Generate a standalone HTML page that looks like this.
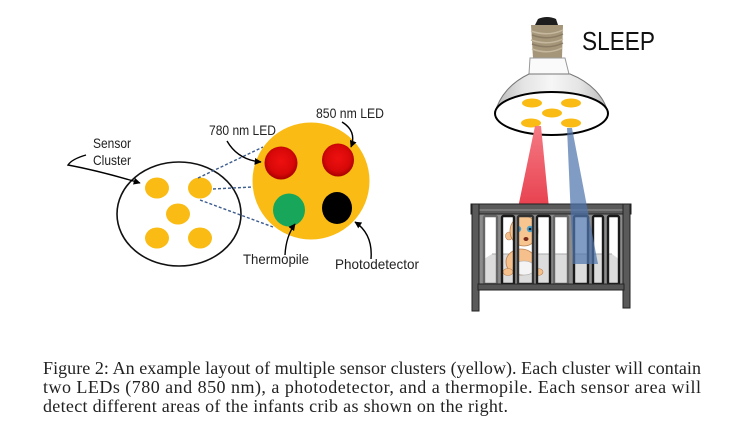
<!DOCTYPE html>
<html><head><meta charset="utf-8"><style>
html,body{margin:0;padding:0;background:#fff;}
svg{display:block;}
</style></head><body>
<svg width="740" height="427" viewBox="0 0 740 427" xmlns="http://www.w3.org/2000/svg">
<defs>
<marker id="ah" viewBox="0 0 10 10" refX="9" refY="5" markerWidth="7" markerHeight="7" orient="auto-start-reverse" markerUnits="userSpaceOnUse">
<path d="M0,0 L10,5 L0,10 Z" fill="#000"/>
</marker>
<radialGradient id="red" cx="50%" cy="45%" r="55%">
<stop offset="0" stop-color="#ee1010"/><stop offset="0.7" stop-color="#d80808"/><stop offset="1" stop-color="#a80000"/>
</radialGradient>
<linearGradient id="shade" x1="0" y1="0" x2="1" y2="0">
<stop offset="0" stop-color="#b8b8b8"/><stop offset="0.25" stop-color="#e4e4e4"/><stop offset="0.5" stop-color="#f6f6f6"/><stop offset="0.75" stop-color="#e4e4e4"/><stop offset="1" stop-color="#b8b8b8"/>
</linearGradient>
<linearGradient id="redbeam" x1="0" y1="0" x2="0" y2="1">
<stop offset="0" stop-color="#f47a84"/><stop offset="1" stop-color="#e8404e"/>
</linearGradient>
</defs>

<!-- LEFT DIAGRAM -->
<ellipse cx="179" cy="214" rx="62" ry="52" fill="#fff" stroke="#111" stroke-width="1.6"/>
<g fill="#f9bb14">
<ellipse cx="157" cy="188" rx="12" ry="10.5"/>
<ellipse cx="200" cy="188" rx="12" ry="10.5"/>
<ellipse cx="178" cy="214" rx="12" ry="10.5"/>
<ellipse cx="157" cy="238" rx="12" ry="10.5"/>
<ellipse cx="200" cy="238" rx="12" ry="10.5"/>
</g>
<g stroke="#3d5d8e" stroke-width="1.4" stroke-dasharray="3,2" fill="none">
<line x1="198" y1="178" x2="263" y2="147"/>
<line x1="213" y1="189" x2="253" y2="187"/>
<line x1="200" y1="200" x2="273" y2="227"/>
</g>
<circle cx="311" cy="181" r="58.5" fill="#f9bb14"/>
<ellipse cx="281" cy="163" rx="16.5" ry="16.5" fill="url(#red)"/>
<ellipse cx="338" cy="160" rx="16" ry="16.5" fill="url(#red)"/>
<ellipse cx="289" cy="210" rx="16" ry="16.5" fill="#17a65a"/>
<ellipse cx="337" cy="208" rx="15" ry="16" fill="#000"/>

<g fill="none" stroke="#000" stroke-width="1.4">
<path d="M86,155 Q72,159 68,165 Q100,171 140,183" marker-end="url(#ah)"/>
<path d="M227,141 Q238,160 261,162" marker-end="url(#ah)"/>
<path d="M342,122 Q357,131 351,147" marker-end="url(#ah)"/>
<path d="M285,255 Q286,236 295,224" marker-end="url(#ah)"/>
<path d="M371,259 Q373,234 355,222" marker-end="url(#ah)"/>
</g>

<g font-family="'Liberation Sans', sans-serif" font-size="14" fill="#222">
<text x="93" y="148" textLength="38" lengthAdjust="spacingAndGlyphs">Sensor</text>
<text x="93" y="165" textLength="38" lengthAdjust="spacingAndGlyphs">Cluster</text>
<text x="209" y="135" textLength="67" lengthAdjust="spacingAndGlyphs">780 nm LED</text>
<text x="316" y="118" textLength="68" lengthAdjust="spacingAndGlyphs">850 nm LED</text>
<text x="243" y="264" textLength="66" lengthAdjust="spacingAndGlyphs">Thermopile</text>
<text x="335" y="269" textLength="84" lengthAdjust="spacingAndGlyphs">Photodetector</text>
</g>

<!-- LAMP -->
<path d="M535,25 L538,19 Q547,15 556,19 L558,25 Z" fill="#1e1e1e"/>
<path d="M531,25 L563,25 L562,58 L533,58 Z" fill="#a69679"/>
<g fill="none" stroke-width="1.5">
<path d="M531,31 Q548,37 563,30" stroke="#c4b89f"/>
<path d="M531,40 Q548,46 563,39" stroke="#c4b89f"/>
<path d="M532,49 Q548,55 562,48" stroke="#c4b89f"/>
<path d="M532,35 Q548,41 563,34" stroke="#8a7c64"/>
<path d="M532,44 Q548,50 563,43" stroke="#8a7c64"/>
</g>
<path d="M530,58 L565,58 L569,74 L529,74 Z" fill="#fafafa" stroke="#999" stroke-width="1"/>
<path d="M529,74 C512,82 499,96 495,113 A56.5,21.5 0 0 0 608,113 C604,96 590,82 570,74 Z" fill="url(#shade)" stroke="#777" stroke-width="1"/>
<ellipse cx="551.5" cy="113.5" rx="56.5" ry="21.5" fill="#fff" stroke="#000" stroke-width="2"/>
<g fill="#f9bb14">
<ellipse cx="532" cy="103" rx="10" ry="4.5"/>
<ellipse cx="571" cy="103" rx="10" ry="4.5"/>
<ellipse cx="552" cy="113" rx="10" ry="4.5"/>
<ellipse cx="531" cy="123" rx="10" ry="4.5"/>
<ellipse cx="571" cy="123" rx="10" ry="4.5"/>
</g>
<text x="582" y="50" font-family="'Liberation Sans', sans-serif" font-size="26" fill="#111" textLength="73" lengthAdjust="spacingAndGlyphs">SLEEP</text>

<!-- red beam -->
<path d="M535,126 L541,126 L549,208 L518,208 Z" fill="url(#redbeam)"/>

<!-- CRIB -->
<rect x="479" y="213" width="144" height="72" fill="#fff"/>
<path d="M479,262 L492,254 L612,254 L623,262 L623,285 L479,285 Z" fill="#dcdcdc"/>
<path d="M492,254 L612,254" stroke="#aaa" stroke-width="1"/>
<!-- baby -->
<g>
<ellipse cx="521" cy="262" rx="15" ry="13" fill="#f5c08c" stroke="#b88050" stroke-width="0.8"/>
<ellipse cx="524" cy="268" rx="11" ry="7" fill="#f4f4f4" stroke="#aaa" stroke-width="0.6"/>
<ellipse cx="508" cy="272" rx="5" ry="3.5" fill="#f5c08c" stroke="#b88050" stroke-width="0.6"/>
<ellipse cx="538" cy="272" rx="5" ry="3.5" fill="#f5c08c" stroke="#b88050" stroke-width="0.6"/>
<ellipse cx="509" cy="236" rx="3.5" ry="4" fill="#f5c08c" stroke="#b88050" stroke-width="0.6"/>
<ellipse cx="524" cy="231" rx="14" ry="15" fill="#f7c590" stroke="#b88050" stroke-width="0.8"/>
<circle cx="518" cy="229" r="3.2" fill="#4aa0cc"/>
<circle cx="530" cy="229" r="3.2" fill="#4aa0cc"/>
<circle cx="518" cy="229" r="1.3" fill="#123"/>
<circle cx="530" cy="229" r="1.3" fill="#123"/>
<ellipse cx="526" cy="239" rx="2.5" ry="2" fill="#7a2a1a"/>
</g>
<!-- grey slats -->
<g fill="#8c8c8c">
<rect x="479" y="213" width="5" height="72"/>
<rect x="497" y="213" width="5" height="72"/>
<rect x="514" y="213" width="4" height="72"/>
<rect x="533" y="213" width="4" height="72"/>
<rect x="550" y="213" width="4" height="72"/>
<rect x="568" y="213" width="6" height="72"/>
<rect x="588" y="213" width="5" height="72"/>
<rect x="603" y="213" width="5" height="72"/>
<rect x="619" y="213" width="4" height="72"/>
<rect x="479" y="213" width="144" height="3"/>
</g>
<!-- opening outlines -->
<g fill="none" stroke-width="2.4">
<rect x="484" y="216" width="13" height="68" rx="1.5" stroke="#666"/>
<rect x="502" y="216" width="12" height="68" rx="1.5" stroke="#1a1a1a"/>
<rect x="518" y="216" width="15" height="68" rx="1.5" stroke="#333"/>
<rect x="537" y="216" width="13" height="68" rx="1.5" stroke="#1a1a1a"/>
<rect x="554" y="216" width="14" height="68" rx="1.5" stroke="#666"/>
<rect x="574" y="216" width="14" height="68" rx="1.5" stroke="#1a1a1a"/>
<rect x="593" y="216" width="10" height="68" rx="1.5" stroke="#1a1a1a"/>
<rect x="608" y="216" width="11" height="68" rx="1.5" stroke="#1a1a1a"/>
</g>
<!-- frame -->
<rect x="471" y="204" width="160" height="10" fill="#5a5a5a" stroke="#222" stroke-width="1"/>
<line x1="473" y1="210" x2="629" y2="210" stroke="#999" stroke-width="1"/>
<rect x="472" y="204" width="7" height="107" fill="#5a5a5a" stroke="#222" stroke-width="1"/>
<rect x="623" y="204" width="7" height="104" fill="#5a5a5a" stroke="#222" stroke-width="1"/>
<rect x="478" y="284" width="146" height="6" fill="#555" stroke="#222" stroke-width="1"/>

<!-- blue beam -->
<path d="M567,128 L572,128 L598,264 L573,264 Z" fill="#4f74ad" fill-opacity="0.72"/>

<!-- CAPTION -->
<g font-family="'Liberation Serif', serif" font-size="18" fill="#222">
<text x="43" y="374" textLength="658">Figure 2: An example layout of multiple sensor clusters (yellow). Each cluster will contain</text>
<text x="43" y="393" textLength="658">two LEDs (780 and 850 nm), a photodetector, and a thermopile. Each sensor area will</text>
<text x="43" y="412" textLength="465">detect different areas of the infants crib as shown on the right.</text>
</g>
</svg>
</body></html>
